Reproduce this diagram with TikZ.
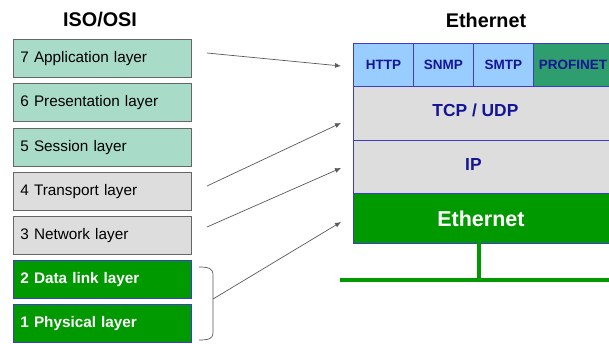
\documentclass[tikz,border=0pt]{standalone}
\usepackage{fontspec}
\setmainfont{Liberation Sans}
\usetikzlibrary{arrows.meta}
\definecolor{mint}{RGB}{168,220,200}
\definecolor{lgray}{RGB}{221,221,221}
\definecolor{dgreen}{RGB}{0,153,0}
\definecolor{lblue}{RGB}{153,204,255}
\definecolor{pgreen}{RGB}{46,158,110}
\definecolor{navy}{RGB}{20,20,150}
\definecolor{bblue}{RGB}{60,60,210}
\begin{document}
\begin{tikzpicture}[x=1pt,y=-1pt,
  osibox/.style={draw=gray!80!black,line width=0.8pt,minimum width=178pt,minimum height=38pt,
    inner sep=0pt,anchor=north west,text width=164pt,align=left,font=\fontsize{15.3}{17}\selectfont},
  osigreen/.style={osibox,fill=dgreen,draw=bblue,text=white,font=\fontsize{15.3}{17}\selectfont\bfseries},
  proto/.style={draw=bblue,line width=0.8pt,anchor=north west,inner sep=0pt,text=navy,
    font=\fontsize{13.5}{15}\selectfont\bfseries},
  layer/.style={proto,minimum width=260pt,font=\fontsize{17.4}{19}\selectfont\bfseries},
  link/.style={draw=gray!70!black,line width=0.7pt,-{Latex[length=6pt,width=5pt]}},
  title/.style={font=\fontsize{19.8}{22}\selectfont\bfseries}]
\useasboundingbox (0,0) rectangle (609,343);

% titles
\node[title] (t1) at (100,20) {ISO/OSI};
\node[title] (t2) at (486,20) {Ethernet};

% ISO/OSI layer stack
\node[osibox,fill=mint] (l7) at (13,39) {7 Application layer};
\node[osibox,fill=mint] (l6) at (13,83) {6 Presentation layer};
\node[osibox,fill=mint] (l5) at (13,128) {5 Session layer};
\node[osibox,fill=lgray] (l4) at (13,172) {4 Transport layer};
\node[osibox,fill=lgray] (l3) at (13,216) {3 Network layer};
\node[osigreen] (l2) at (13,260) {2 Data link layer};
\node[osigreen] (l1) at (13,304) {1 Physical layer};

% Ethernet protocol stack
\node[proto,fill=lblue,minimum width=60pt,minimum height=43pt] (http) at (353,43) {HTTP};
\node[proto,fill=lblue,minimum width=60pt,minimum height=43pt] (snmp) at (413,43) {SNMP};
\node[proto,fill=lblue,minimum width=60pt,minimum height=43pt] (smtp) at (473,43) {SMTP};
\node[proto,fill=pgreen,minimum width=80pt,minimum height=43pt] (pn) at (533,43) {\hspace*{-1pt}PROFINET};
\node[layer,fill=lgray,minimum height=54pt] (tcp) at (353,86) {\raisebox{7pt}{TCP / UDP}\hspace*{16pt}};
\node[layer,fill=lgray,minimum height=53pt] (ip) at (353,140) {\raisebox{4pt}{IP}\hspace*{20pt}};
\node[layer,fill=dgreen,minimum height=50pt,text=white,font=\fontsize{21.5}{23}\selectfont\bfseries] (eth) at (353,193) {\raisebox{-1pt}{Ethernet}\hspace*{5pt}};

% bus
\coordinate (drop) at (479,243);
\coordinate (busL) at (340,280);
\coordinate (busR) at (609,280);
\coordinate (tap) at (479,280);
\draw[dgreen,line width=4pt] (drop) -- (tap);
\draw[dgreen,line width=4pt] (busL) -- (busR);

% bracket grouping layers 1 and 2
\coordinate (bt) at (199,267);
\coordinate (bm) at (213,299);
\coordinate (bb) at (199,340);
\draw[gray!70!black,line width=0.7pt] (bt) .. controls (208,267) and (213,268) .. (213,275) -- (213,333) .. controls (213,339) and (208,340) .. (bb);

% mapping arrows
\coordinate (a7) at (207,53);
\coordinate (a4) at (207,186);
\coordinate (a3) at (207,227);
\coordinate (e7) at (341,66);
\coordinate (e4) at (341,123);
\coordinate (e3) at (341,168);
\coordinate (e2) at (341,222);
\draw[link] (a7) -- (e7);
\draw[link] (a4) -- (e4);
\draw[link] (a3) -- (e3);
\draw[link] (bm) -- (e2);
\end{tikzpicture}
\end{document}
